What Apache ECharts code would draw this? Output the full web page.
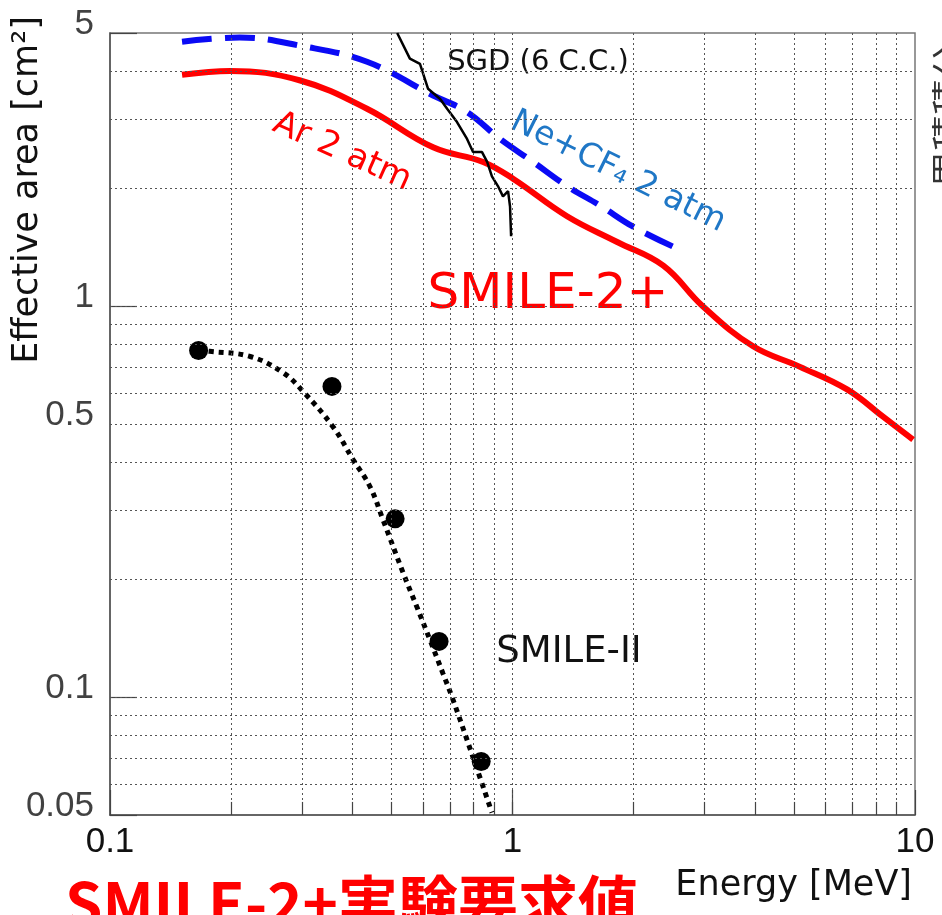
<!DOCTYPE html>
<html>
<head>
<meta charset="utf-8">
<script src="https://cdn.jsdelivr.net/npm/echarts@6/dist/echarts.min.js"></script>
<style>
  html, body { margin: 0; padding: 0; background: #fff; }
  #chart { width: 942px; height: 915px; }
</style>
</head>
<body>
<div id="chart"></div>
<script>
// SMILE-2+ (Ar 2 atm), red solid
const arEnergy = [0.151, 0.199, 0.297, 0.435, 0.635, 0.845, 1.003, 1.366, 1.82, 2.37, 2.97, 3.96, 5.18, 6.78, 8.33, 9.89];
const arArea = [3.91, 4.0, 3.78, 3.20, 2.55, 2.34, 2.12, 1.70, 1.46, 1.27, 1.0, 0.79, 0.70, 0.613, 0.522, 0.456];

// Ne+CF4 2 atm, blue dashed
const neEnergy = [0.151, 0.210, 0.297, 0.435, 0.635, 0.771, 0.931, 1.125, 1.366, 1.65, 1.99, 2.51];
const neArea = [4.75, 4.87, 4.64, 4.22, 3.46, 3.14, 2.68, 2.34, 2.03, 1.81, 1.60, 1.42];

// SGD (6 C.C.), thin black
const sgdEnergy = [0.517, 0.556, 0.589, 0.617, 0.661, 0.688, 0.728, 0.771, 0.798, 0.840, 0.865, 0.889, 0.920, 0.947, 0.975, 0.986, 0.992];
const sgdArea = [5.0, 4.30, 4.17, 3.60, 3.39, 3.20, 2.96, 2.68, 2.48, 2.48, 2.34, 2.15, 2.03, 1.91, 1.97, 1.80, 1.51];

// SMILE-II measured points and dotted fit
const smile2Energy = [0.166, 0.356, 0.511, 0.657, 0.836];
const smile2Area = [0.771, 0.624, 0.286, 0.139, 0.0685];
const fitEnergy = [0.166, 0.177, 0.223, 0.269, 0.302, 0.358, 0.402, 0.443, 0.477, 0.535, 0.579, 0.624, 0.672, 0.708, 0.798, 0.889];
const fitArea = [0.771, 0.767, 0.744, 0.677, 0.605, 0.492, 0.405, 0.345, 0.284, 0.208, 0.170, 0.140, 0.115, 0.100, 0.0702, 0.0507];

// axes
const xMin = 0.1, xMax = 10;
const yMin = 0.05, yMax = 5;
const yTickValues = [0.05, 0.1, 0.5, 1, 5];
const yTickLabels = ['0.05', '0.1', '0.5', '1', '5'];
const xGridValues = [0.2, 0.3, 0.4, 0.5, 0.6, 0.7, 0.8, 0.9, 1, 2, 3, 4, 5, 6, 7, 8, 9];
const yGridValues = [0.06, 0.07, 0.08, 0.09, 0.1, 0.2, 0.3, 0.4, 0.5, 0.6, 0.7, 0.8, 0.9, 1, 2, 3, 4];

const pair = (xs, ys) => xs.map((x, i) => [x, ys[i]]);
const txtFont = '"DejaVu Sans", sans-serif';
const numFont = '"Liberation Sans", sans-serif';

const chart = echarts.init(document.getElementById('chart'));
chart.setOption({
  animation: false,
  backgroundColor: '#fff',
  grid: { left: 110, right: 27, top: 33, bottom: 100, show: true, borderColor: '#777', borderWidth: 1.5 },
  xAxis: {
    type: 'log', logBase: 10, min: xMin, max: xMax,
    axisLine: { lineStyle: { color: '#555', width: 1.5 } },
    axisTick: { inside: true, length: 25, lineStyle: { color: '#444', width: 1.2 } },
    axisLabel: { fontSize: 35, color: '#111', margin: 10, fontFamily: numFont },
    splitLine: { show: false }
  },
  yAxis: {
    type: 'log', logBase: 10, min: yMin, max: yMax,
    axisLine: { lineStyle: { color: '#555', width: 1.5 } },
    axisTick: { inside: true, length: 27, lineStyle: { color: '#444', width: 1.2 } },
    axisLabel: { show: false },
    splitLine: { show: false }
  },
  series: [
    {
      // grid lines
      type: 'line', data: [], silent: true,
      markLine: {
        silent: true, symbol: 'none', label: { show: false },
        lineStyle: { type: [2, 3], color: '#555', width: 1 },
        data: xGridValues.map(v => ({ xAxis: v })).concat(yGridValues.map(v => ({ yAxis: v })))
      }
    },
    {
      // short minor ticks on the energy axis
      type: 'line', data: [], silent: true,
      markLine: {
        silent: true, symbol: 'none', label: { show: false },
        lineStyle: { type: 'solid', color: '#444', width: 1.2 },
        data: xGridValues.map(v => [{ coord: [v, yMin] }, { coord: [v, yMin * 1.08] }])
      }
    },
    {
      // y tick labels
      type: 'scatter', symbolSize: 0, silent: true,
      data: yTickValues.map(v => [xMin, v]),
      label: {
        show: true, position: 'left', distance: 16, offset: [0, -9],
        fontSize: 35, color: '#111', fontFamily: numFont,
        formatter: p => yTickLabels[p.dataIndex]
      }
    },
    {
      name: 'Ne+CF4 2 atm', type: 'line', smooth: 0.4, showSymbol: false,
      data: pair(neEnergy, neArea),
      lineStyle: { color: '#0a0af5', width: 6, type: [30, 13] }
    },
    {
      name: 'Ar 2 atm', type: 'line', smooth: 0.4, showSymbol: false,
      data: pair(arEnergy, arArea),
      lineStyle: { color: '#ff0000', width: 6 }
    },
    {
      name: 'SGD (6 C.C.)', type: 'line', showSymbol: false,
      data: pair(sgdEnergy, sgdArea),
      lineStyle: { color: '#000', width: 2.5 }
    },
    {
      name: 'SMILE-II fit', type: 'line', smooth: 0.4, showSymbol: false,
      data: pair(fitEnergy, fitArea),
      lineStyle: { color: '#000', width: 5, type: [5, 5] }
    },
    {
      name: 'SMILE-II', type: 'scatter', symbol: 'circle', symbolSize: 19,
      data: pair(smile2Energy, smile2Area),
      itemStyle: { color: '#000', opacity: 1 }
    }
  ],
  graphic: [
    { type: 'text', x: 28, y: 190, rotation: Math.PI / 2,
      style: { text: 'Effective area [cm²]', font: '35px ' + txtFont, fill: '#111', align: 'center', verticalAlign: 'middle' } },
    { type: 'text', x: 912, y: 886,
      style: { text: 'Energy [MeV]', font: '35px ' + txtFont, fill: '#111', align: 'right', verticalAlign: 'middle' } },
    { type: 'text', x: 538, y: 62,
      style: { text: 'SGD (6 C.C.)', font: '29px ' + txtFont, fill: '#111', align: 'center', verticalAlign: 'middle' } },
    { type: 'text', x: 342, y: 152, rotation: -0.42,
      style: { text: 'Ar 2 atm', font: '34px ' + txtFont, fill: '#ff0000', align: 'center', verticalAlign: 'middle' } },
    { type: 'text', x: 618, y: 172, rotation: -0.46,
      style: { text: 'Ne+CF₄ 2 atm', font: '33px ' + txtFont, fill: '#1f77c6', align: 'center', verticalAlign: 'middle' } },
    { type: 'text', x: 548, y: 295,
      style: { text: 'SMILE-2+', font: '50px ' + txtFont, fill: '#ff0000', align: 'center', verticalAlign: 'middle' } },
    { type: 'text', x: 569, y: 652,
      style: { text: 'SMILE-II', font: '37px ' + txtFont, fill: '#111', align: 'center', verticalAlign: 'middle' } },
    { type: 'text', x: 65, y: 873,
      style: { text: 'SMILE-2+実験要求値', font: 'bold 60px "Noto Sans CJK JP", sans-serif', fill: '#ff0000', align: 'left', verticalAlign: 'top' } },
    { type: 'text', x: 931, y: 115, rotation: Math.PI / 2,
      style: { text: '累積積分', font: '36px "Noto Sans CJK JP", sans-serif', fill: '#333', align: 'center', verticalAlign: 'top' } }
  ]
});
</script>
</body>
</html>
